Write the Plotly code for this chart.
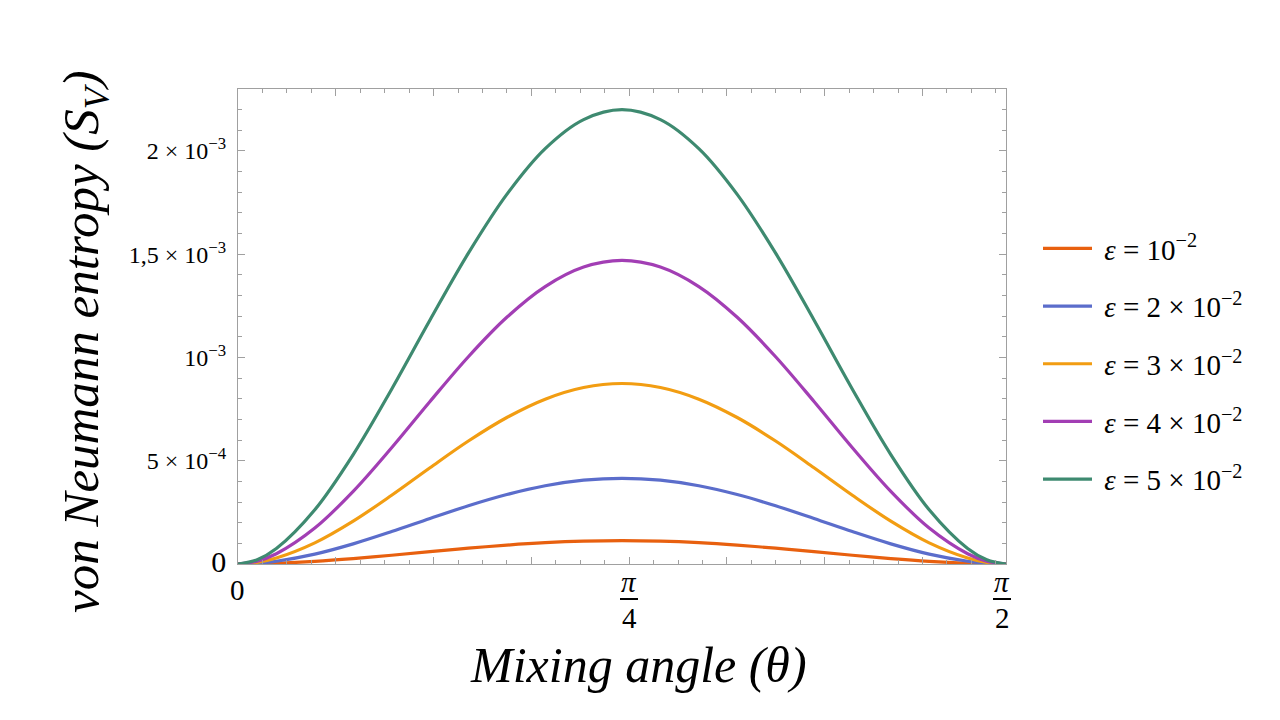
import plotly.graph_objects as go
import numpy as np

# --- data (S_V in units of 1e-3) ---
theta = [0, 0.0393, 0.0785, 0.1571, 0.2356, 0.3142, 0.3927, 0.4712, 0.5498, 0.6283,
         0.7069, 0.7854, 0.8639, 0.9425, 1.0210, 1.0996, 1.1781, 1.2566, 1.3352,
         1.4137, 1.4923, 1.5315, 1.5708]

sv_eps1 = [0, 0.00098, 0.00358, 0.01281, 0.02622, 0.04234, 0.05961, 0.07645, 0.09136, 0.10303,
           0.11045, 0.1130, 0.11045, 0.10303, 0.09136, 0.07645, 0.05961, 0.04234, 0.02622,
           0.01281, 0.00358, 0.00098, 0]
sv_eps2 = [0, 0.00372, 0.01352, 0.04795, 0.09761, 0.15700, 0.22036, 0.28191, 0.33626, 0.37874,
           0.40574, 0.4150, 0.40574, 0.37874, 0.33626, 0.28191, 0.22036, 0.15700, 0.09761,
           0.04795, 0.01352, 0.00372, 0]
sv_eps3 = [0, 0.00802, 0.02904, 0.10235, 0.20755, 0.33288, 0.46619, 0.59541, 0.70929, 0.79819,
           0.85465, 0.8740, 0.85465, 0.79819, 0.70929, 0.59541, 0.46619, 0.33288, 0.20755,
           0.10235, 0.02904, 0.00802, 0]
sv_eps4 = [0, 0.01375, 0.04959, 0.17401, 0.35179, 0.56294, 0.78697, 1.00374, 1.19451, 1.34325,
           1.43765, 1.4700, 1.43765, 1.34325, 1.19451, 1.00374, 0.78697, 0.56294, 0.35179,
           0.17401, 0.04959, 0.01375, 0]
sv_eps5 = [0, 0.02091, 0.07519, 0.26282, 0.52998, 0.84643, 1.18149, 1.50517, 1.78966, 2.01128,
           2.15185, 2.2000, 2.15185, 2.01128, 1.78966, 1.50517, 1.18149, 0.84643, 0.52998,
           0.26282, 0.07519, 0.02091, 0]

series_names = ["\u00a0<i>ε</i> = 10<sup>−2</sup>",
                "\u00a0<i>ε</i> = 2 × 10<sup>−2</sup>",
                "\u00a0<i>ε</i> = 3 × 10<sup>−2</sup>",
                "\u00a0<i>ε</i> = 4 × 10<sup>−2</sup>",
                "\u00a0<i>ε</i> = 5 × 10<sup>−2</sup>"]
series_colors = ["#E8600F", "#5B6DCB", "#F29D12", "#A23EB4", "#3E8A70"]

y_tickvals = [0, 5e-4, 1e-3, 1.5e-3, 2e-3]
y_ticktext = ["<span style='font-size:30px'>0</span>",
              "5 × 10<sup>−4</sup>", "10<sup>−3</sup>",
              "1,5 × 10<sup>−3</sup>", "2 × 10<sup>−3</sup>"]

SCALE = 1e-3
FONT = "Liberation Serif"
FRAME = "#A0A0A0"

fig = go.Figure()
for i, (vals, name, col) in enumerate(zip([sv_eps1, sv_eps2, sv_eps3, sv_eps4, sv_eps5],
                                          series_names, series_colors)):
    fig.add_trace(go.Scatter(
        x=theta, y=np.array(vals) * SCALE, mode="lines", name=name,
        line=dict(color=col, width=3.2, shape="spline", smoothing=1.0),
        legendgroup=f"g{i}"))

# page pixel -> paper coords (plot area 238..1006 x 89..564 on the page)
pw = 768.0
def px(xp):
    return (xp - 238) / pw
def py(yp):
    return (564 - yp) / 475.0

# x tick labels: 0, pi/4, pi/2 drawn as stacked fractions
annots = [
    dict(text="0", x=px(237), y=py(590)),
    dict(text="<i>π</i>", x=px(629), y=py(582)),
    dict(text="4", x=px(629), y=py(618)),
    dict(text="<i>π</i>", x=px(1002), y=py(582)),
    dict(text="2", x=px(1002), y=py(618)),
]
annotations = []
for a in annots:
    annotations.append(dict(text=a["text"], x=a["x"], y=a["y"], xref="paper", yref="paper",
                            xanchor="center", yanchor="middle", showarrow=False,
                            font=dict(family=FONT, size=29, color="black")))
annotations.append(dict(text="<i>Mixing angle (θ)</i>", x=px(638), y=py(665),
                        xref="paper", yref="paper", xanchor="center", yanchor="middle",
                        showarrow=False, font=dict(family=FONT, size=50, color="black")))
annotations.append(dict(text="<i>von Neumann entropy (S<sub>V</sub>)</i>", x=px(85), y=py(342),
                        xref="paper", yref="paper", xanchor="center", yanchor="middle",
                        textangle=-90, showarrow=False,
                        font=dict(family=FONT, size=51, color="black")))

shapes = [
    dict(type="line", xref="paper", yref="paper", x0=px(620), x1=px(638), y0=py(599), y1=py(599),
         line=dict(color="black", width=2)),
    dict(type="line", xref="paper", yref="paper", x0=px(993), x1=px(1011), y0=py(599), y1=py(599),
         line=dict(color="black", width=2)),
]

# the page adds an 8px body margin, so the margins are pulled in by 8px
fig.update_layout(
    width=1280, height=720,
    margin=dict(l=230, r=282, t=81, b=164),
    plot_bgcolor="white", paper_bgcolor="white",
    font=dict(family=FONT, color="black"),
    annotations=annotations, shapes=shapes,
    legend=dict(x=px(1038), xanchor="left", y=py(364), yanchor="middle",
                font=dict(family=FONT, size=29, color="black"), itemwidth=49,
                tracegroupgap=17, bgcolor="rgba(0,0,0,0)"),
    xaxis=dict(range=[0, 1.5708], tick0=0, dtick=0.2, ticks="inside", ticklen=7,
               tickcolor=FRAME, showticklabels=False, showgrid=False, zeroline=False,
               showline=True, linecolor=FRAME, linewidth=1, mirror="ticks",
               minor=dict(tick0=0, dtick=0.05, ticks="inside", ticklen=4, tickcolor=FRAME)),
    yaxis=dict(range=[0, 2.30e-3], tickmode="array", tickvals=y_tickvals, ticktext=y_ticktext,
               ticks="inside", ticklen=7, tickcolor=FRAME, showgrid=False, zeroline=False,
               showline=True, linecolor=FRAME, linewidth=1, mirror="ticks",
               tickfont=dict(family=FONT, size=24, color="black"), ticklabelstandoff=6,
               minor=dict(tickmode="linear", tick0=0, dtick=1e-4, ticks="inside",
                          ticklen=4, tickcolor=FRAME)),
)

fig.write_html("out.html")
